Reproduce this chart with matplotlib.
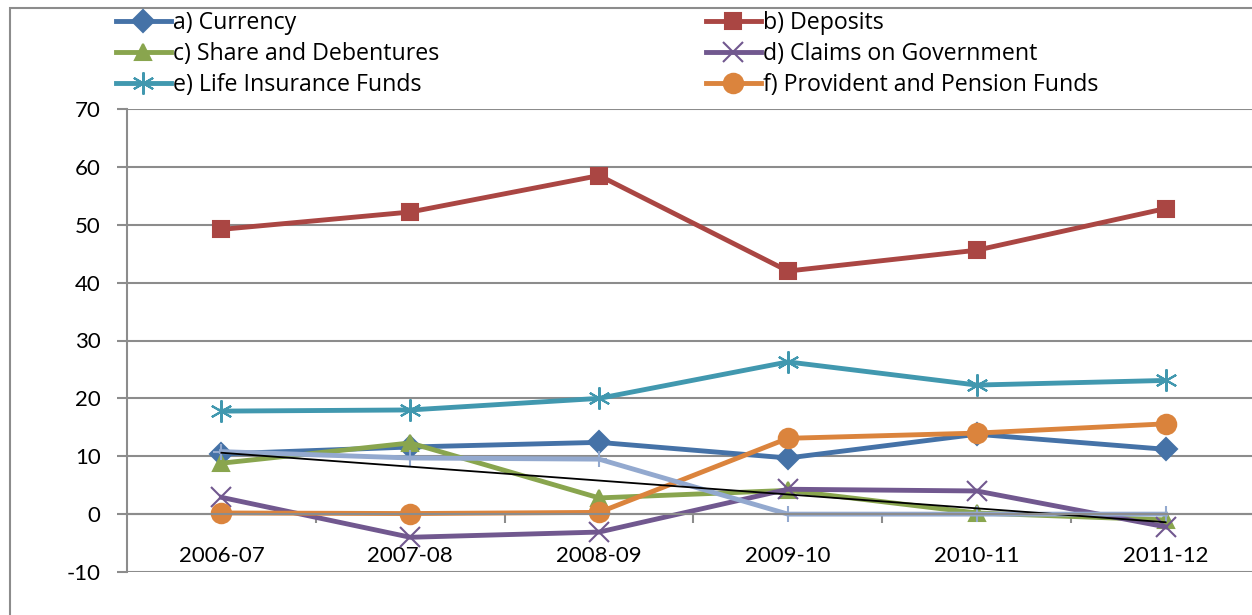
import matplotlib
matplotlib.use("Agg")
import matplotlib.pyplot as plt
from matplotlib.patches import Rectangle
from matplotlib.ticker import FixedLocator

plt.rcParams["font.family"] = ["Lato", "DejaVu Sans"]
plt.rcParams["axes.unicode_minus"] = False

years = ["2006-07", "2007-08", "2008-09", "2009-10", "2010-11", "2011-12"]

currency = [10.4, 11.6, 12.4, 9.7, 13.8, 11.2]
deposits = [49.2, 52.2, 58.5, 42.0, 45.6, 52.8]
shares = [8.8, 12.3, 2.8, 4.1, 0.2, -1.0]
claims_govt = [2.9, -4.0, -3.1, 4.3, 4.0, -2.2]
life_ins = [17.8, 18.0, 20.0, 26.3, 22.3, 23.1]
provident = [0.2, 0.1, 0.3, 13.1, 14.0, 15.6]
unlabelled = [10.8, 9.7, 9.5, 0.0, 0.0, 0.0]   # light blue series, no legend entry
trend = [10.6, -1.4]                            # black linear trend, first -> last year

x = list(range(1, len(years) + 1))

fig = plt.figure(figsize=(12.52, 6.15), dpi=100)
ax = fig.add_axes([127 / 1252, 1 - 572 / 615, 1133 / 1252, (572 - 109) / 615])

ASTERISK = (6, 2, 0)
series = [
    ("a) Currency", currency, "#4572A7", "D", 11),
    ("b) Deposits", deposits, "#AA4643", "s", 11),
    ("c) Share and Debentures", shares, "#89A54E", "^", 12),
    ("d) Claims on Government", claims_govt, "#71588F", "x", 14),
    ("e) Life Insurance Funds", life_ins, "#4198AF", ASTERISK, 16),
    ("f) Provident and Pension Funds", provident, "#DB843D", "o", 14),
]
handles = []
for label, vals, col, mk, ms in series:
    h, = ax.plot(x, vals, color=col, lw=3.5, marker=mk, ms=ms, mfc=col, mec=col,
                 mew=1.5, label=label, solid_joinstyle="round")
    handles.append(h)

ax.plot(x, unlabelled, color="#93A9CF", lw=3.5, marker="+", ms=12, mew=1.5)
ax.plot([x[0], x[-1]], trend, color="black", lw=1.3)

ax.set_xlim(0.5, 6.5)
ax.set_ylim(-10, 70)
ax.set_yticks(range(-10, 71, 10))
ax.grid(axis="y", color="#8C8C8C", lw=1.5)
ax.set_axisbelow(True)

for s in ["top", "right"]:
    ax.spines[s].set_visible(False)
ax.spines["left"].set_color("#8C8C8C")
ax.spines["left"].set_linewidth(1.5)
ax.spines["bottom"].set_position(("data", 0))
ax.spines["bottom"].set_color("#8C8C8C")
ax.spines["bottom"].set_linewidth(1.5)

ax.xaxis.set_major_locator(FixedLocator([1.5, 2.5, 3.5, 4.5, 5.5]))
ax.xaxis.set_major_formatter(plt.NullFormatter())
ax.xaxis.set_minor_locator(FixedLocator(x))
ax.set_xticklabels(years, minor=True)
ax.tick_params(axis="x", which="major", length=6.5, width=1.5, color="#8C8C8C", direction="out")
ax.tick_params(axis="x", which="minor", length=0, pad=23, labelsize=16)
ax.tick_params(axis="y", length=7, width=1.5, color="#8C8C8C", pad=12, labelsize=16)

leg_kw = dict(frameon=False, prop={"family": ["Open Sans", "DejaVu Sans"], "size": 16.7},
              handlelength=2.35, handletextpad=0.1, labelspacing=0.3,
              borderaxespad=0, borderpad=0, loc="upper left")
leg1 = fig.legend(handles=handles[0::2], bbox_to_anchor=(116 / 1252, 1 - 11 / 615), **leg_kw)
leg2 = fig.legend(handles=handles[1::2], bbox_to_anchor=(706 / 1252, 1 - 11 / 615), **leg_kw)

# chart area border (bottom/right edges fall outside the image)
top = 1 - 8 / 615
fig.patches.append(Rectangle((10 / 1252, -0.1), 1.2, top + 0.1,
                             transform=fig.transFigure, fill=False, ec="#8C8C8C", lw=1.5))

fig.savefig("out.png", dpi=100)
